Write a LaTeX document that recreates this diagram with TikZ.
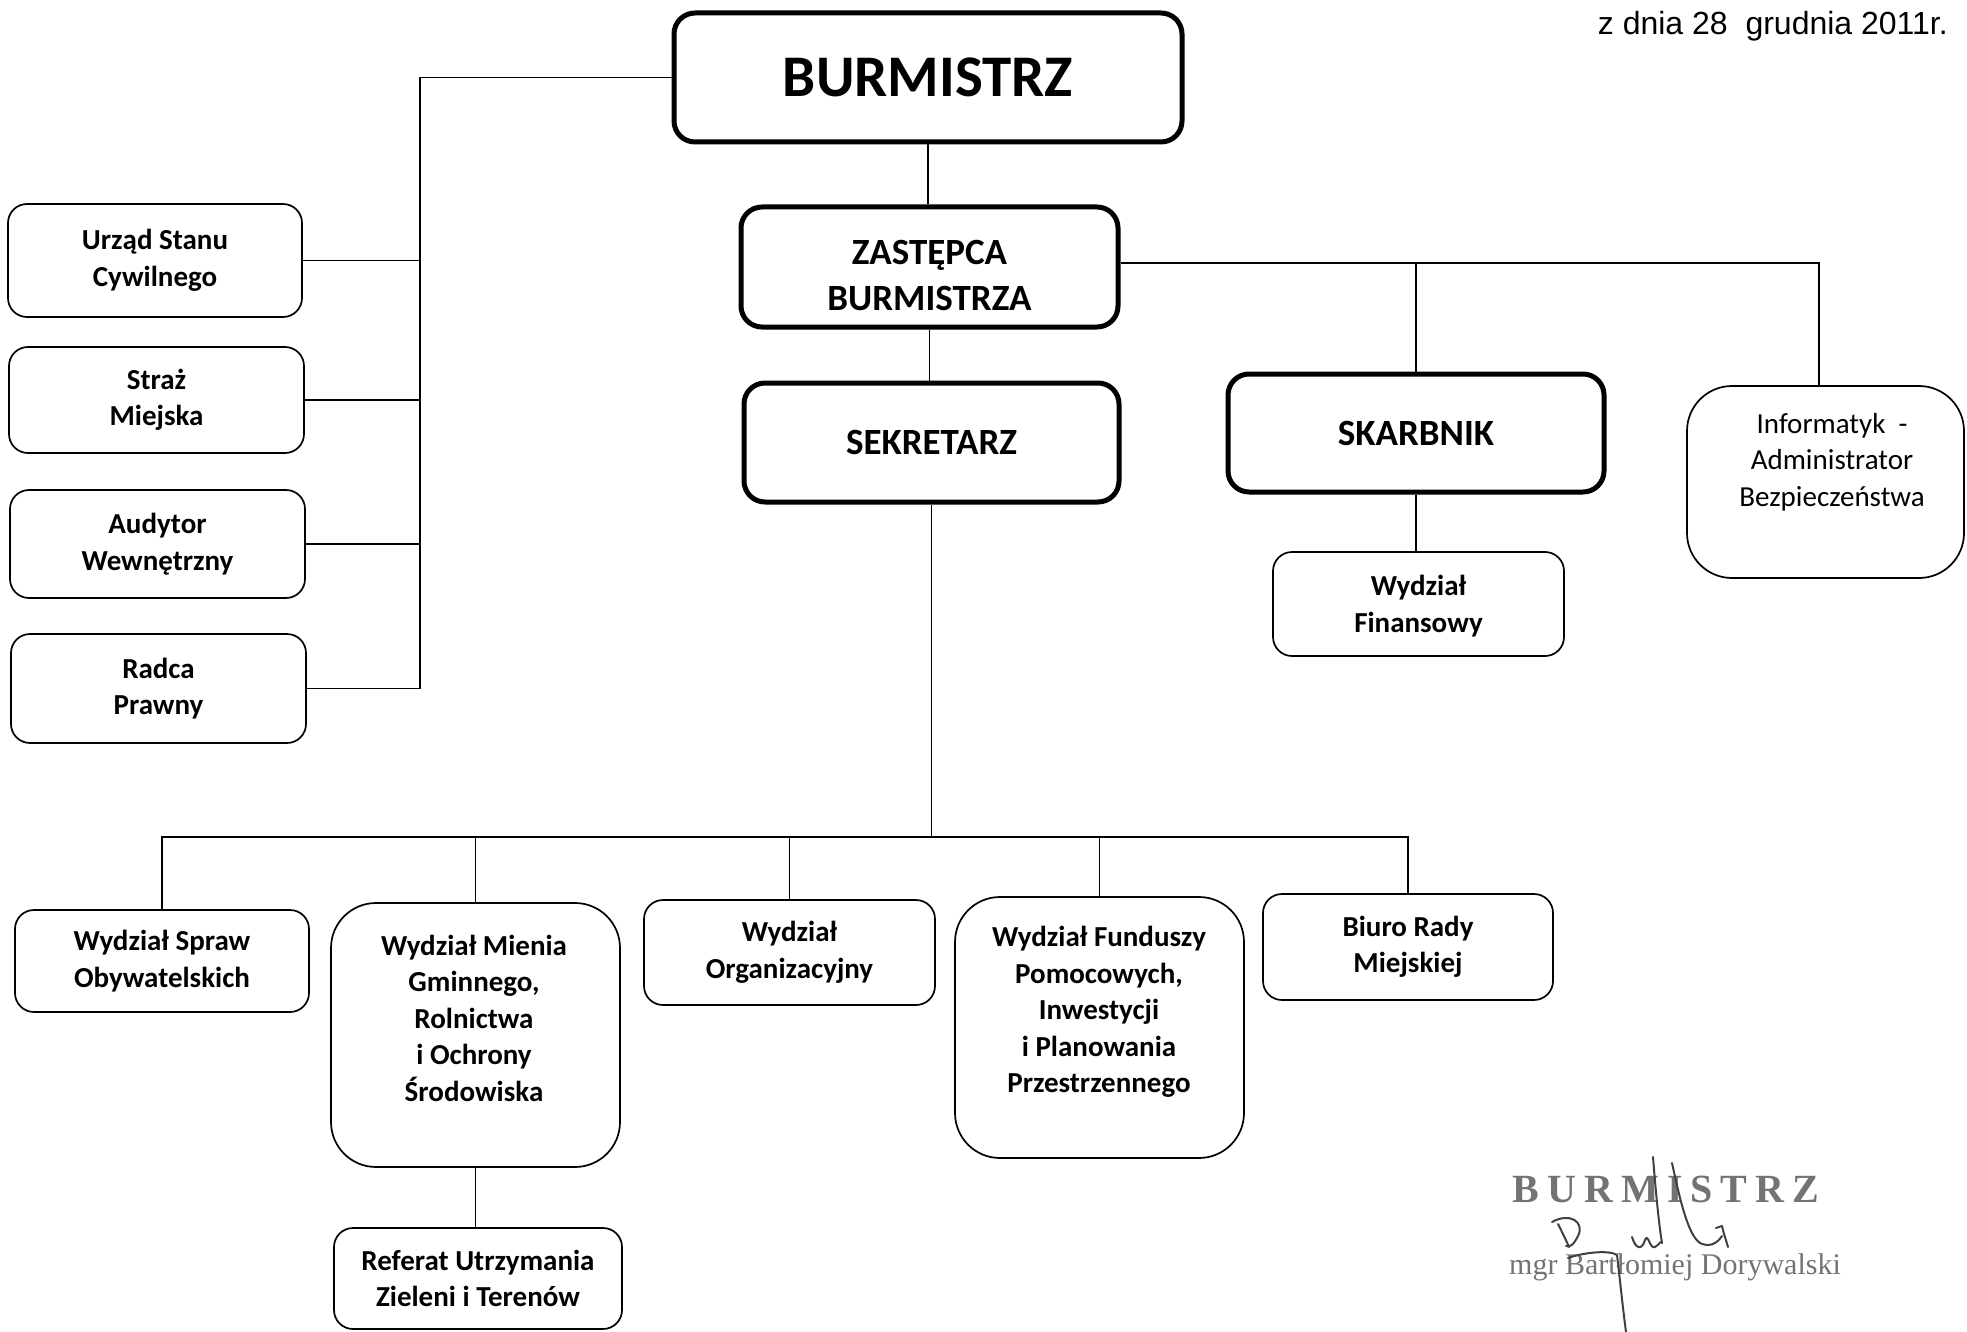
\documentclass[tikz,border=0pt]{standalone}
\usepackage{fontspec}
\setmainfont{Carlito}
\newfontfamily\arialfont{Liberation Sans}
\newfontfamily\stampfont[LetterSpace=20]{Liberation Serif}
\newfontfamily\namefont{Liberation Serif}
\tikzset{
  conn/.style={line width=1.6pt},
  thinbox/.style={draw, line width=1.7pt, rounded corners=19pt, inner sep=0pt, align=center,
    font=\bfseries\fontsize{29}{36.5}\selectfont},
  tallbox/.style={draw, line width=1.7pt, rounded corners=45pt, inner sep=0pt},
  thickbox/.style={draw, line width=5pt, rounded corners=21pt, inner sep=0pt, align=center,
    font=\bfseries\fontsize{37}{46}\selectfont},
  boxtext/.style={align=center, inner sep=0pt, font=\bfseries\fontsize{29}{36.5}\selectfont},
  sig/.style={line width=2pt, draw=black!75, line cap=round, line join=round}
}
\begin{document}
\begin{tikzpicture}[x=1pt,y=-1pt]
\useasboundingbox (0,0) rectangle (1967,1332);

% top right date
\node[anchor=base east, inner sep=0pt, font=\arialfont\fontsize{32}{36}\selectfont] (date) at (1948,35) {z dnia 28\ \ grudnia 2011r.};

% main boxes
\node[thickbox, minimum width=508pt, minimum height=129pt, font=\bfseries\fontsize{59}{70}\selectfont] (burm) at (928,77.5) {BURMISTRZ};
\node[thickbox, minimum width=377pt, minimum height=120pt] (zast) at (929.5,267) {};
\node[align=center, inner sep=0pt, font=\bfseries\fontsize{37}{46}\selectfont] (zastt) at (929.5,276) {ZASTĘPCA\\BURMISTRZA};
\node[thickbox, minimum width=375pt, minimum height=119pt] (sekr) at (931.5,442.5) {SEKRETARZ};
\node[thickbox, minimum width=376pt, minimum height=118pt] (skarb) at (1416,433) {SKARBNIK};
\node[thinbox, minimum width=291pt, minimum height=104pt] (fin) at (1418.5,604) {};
\node[boxtext] (fint) at (1418.5,606) {Wydział\\Finansowy};
\node[tallbox, minimum width=277pt, minimum height=192pt] (info) at (1825.5,482) {};
\node[align=center, inner sep=0pt, font=\fontsize{29}{36.5}\selectfont] (infot) at (1832,462) {Informatyk\ \ -\\Administrator\\Bezpieczeństwa};

% left boxes
\node[thinbox, minimum width=294pt, minimum height=113pt] (urzad) at (155,260.5) {Urząd Stanu\\Cywilnego};
\node[thinbox, minimum width=295pt, minimum height=106pt] (straz) at (156.5,400) {Straż\\Miejska};
\node[thinbox, minimum width=295pt, minimum height=108pt] (audyt) at (157.5,544) {Audytor\\Wewnętrzny};
\node[thinbox, minimum width=295pt, minimum height=109pt] (radca) at (158.5,688.5) {Radca\\Prawny};

% bottom boxes
\node[thinbox, minimum width=294pt, minimum height=102pt] (spraw) at (162,961) {Wydział Spraw\\Obywatelskich};
\node[tallbox, minimum width=289pt, minimum height=264pt] (mienia) at (475.5,1035) {};
\node[boxtext] (mieniat) at (474,1018) {Wydział Mienia\\Gminnego,\\Rolnictwa\\i Ochrony\\Środowiska};
\node[thinbox, minimum width=291pt, minimum height=105pt] (org) at (789.5,952.5) {Wydział\\Organizacyjny};
\node[tallbox, minimum width=289pt, minimum height=261pt] (fund) at (1099.5,1027.5) {};
\node[boxtext] (fundt) at (1099,1012) {Wydział Funduszy\\Pomocowych,\\Inwestycji\\i Planowania\\Przestrzennego};
\node[thinbox, minimum width=290pt, minimum height=106pt] (biuro) at (1408,947) {Biuro Rady\\Miejskiej};
\node[thinbox, minimum width=288pt, minimum height=101pt] (referat) at (478,1278.5) {Referat Utrzymania\\Zieleni i Terenów};

% connectors: left bus
\coordinate (lbus) at (420,688.5);
\draw[conn] (burm.west) -| (lbus) -- (radca.east);
\draw[conn] (urzad.east) -- (urzad.east -| lbus);
\draw[conn] (straz.east) -- (straz.east -| lbus);
\draw[conn] (audyt.east) -- (audyt.east -| lbus);

% center chain
\draw[conn] (burm.south) -- (burm.south |- zast.north);
\draw[conn] (zast.south) -- (zast.south |- sekr.north);

% right bus
\coordinate (rb) at (1819,263);
\draw[conn] (zast.east |- rb) -- (rb) -- (rb |- info.north);
\draw[conn] (skarb.north) -- (skarb.north |- rb);
\draw[conn] (skarb.south) -- (skarb.south |- fin.north);

% bottom bus
\coordinate (bb) at (931.5,837);
\draw[conn] (sekr.south) -- (bb);
\draw[conn] (spraw.north) -- (spraw.north |- bb) -- (biuro.north |- bb) -- (biuro.north);
\draw[conn] (mienia.north) -- (mienia.north |- bb);
\draw[conn] (org.north) -- (org.north |- bb);
\draw[conn] (fund.north) -- (fund.north |- bb);
\draw[conn] (mienia.south) -- (mienia.south |- referat.north);

% stamp and signature
\node[inner sep=0pt, text=black!55, font=\stampfont\bfseries\fontsize{40}{44}\selectfont] (stamp) at (1666,1189) {BURMISTRZ};
\node[inner sep=0pt, text=black!55, font=\namefont\fontsize{30}{34}\selectfont] (name) at (1675,1267) {mgr Bartłomiej Dorywalski};
\draw[sig] (1653,1157) .. controls (1656,1195) and (1659,1225) .. (1662,1243);
\draw[sig] (1672,1163) .. controls (1680,1200) and (1688,1235) .. (1700,1243) .. controls (1708,1247) and (1716,1245) .. (1722,1236);
\draw[sig] (1716,1228) -- (1722,1226) .. controls (1724,1235) and (1726,1240) .. (1728,1247);
\draw[sig] (1632,1237) .. controls (1636,1250) and (1642,1250) .. (1645,1240) .. controls (1648,1232) and (1650,1250) .. (1655,1247) .. controls (1660,1244) and (1661,1240) .. (1662,1243);
\draw[sig] (1552,1222) .. controls (1570,1212) and (1585,1222) .. (1578,1236) .. controls (1574,1244) and (1570,1248) .. (1566,1246);
\draw[sig] (1558,1224) .. controls (1562,1232) and (1566,1240) .. (1569,1247);
\draw[sig] (1568,1258) .. controls (1585,1252) and (1610,1250) .. (1617,1255) .. controls (1620,1280) and (1623,1310) .. (1626,1332);
\end{tikzpicture}
\end{document}
